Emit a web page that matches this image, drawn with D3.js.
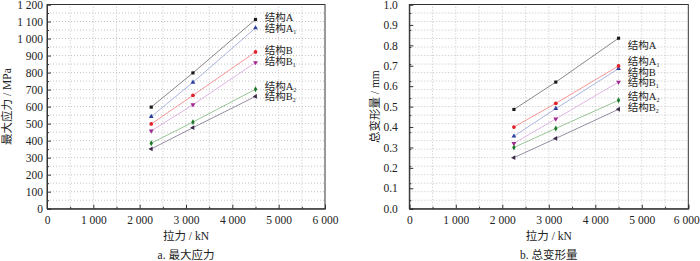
<!DOCTYPE html>
<html>
<head>
<meta charset="utf-8">
<script src="https://d3js.org/d3.v7.min.js"></script>
<style>
    body { margin: 0; background: #fff; }
    svg { display: block; }
    text { font-family: "Liberation Serif", "Noto Sans CJK SC", serif; fill: #222; }
    .grid line { stroke: #c4c4c4; stroke-dasharray: 1,2; }
    .axis path, .axis line { stroke: #333; }
</style>
</head>
<body>
<svg></svg>
<script>
    // x positions (拉力, kN)
    const forces = [2250, 3150, 4500];

    // series labels: base + subscript
    const labelBase = ["结构A", "结构A", "结构B", "结构B", "结构A", "结构B"];
    const labelSub  = ["", "1", "", "1", "2", "2"];

    // a. 最大应力 (MPa): A, A1, B, B1, A2, B2
    const stressA  = [597, 798, 1112];
    const stressA1 = [541, 743, 1062];
    const stressB  = [498, 666, 921];
    const stressB1 = [457, 611, 859];
    const stressA2 = [385, 509, 702];
    const stressB2 = [351, 476, 660];
    const stressLabelY = [1125, 1058, 929, 867, 720, 660];

    // b. 总变形量 (mm)
    const deformA  = [0.486, 0.620, 0.835];
    const deformA1 = [0.355, 0.490, 0.686];
    const deformB  = [0.400, 0.516, 0.699];
    const deformB1 = [0.320, 0.440, 0.620];
    const deformA2 = [0.300, 0.393, 0.531];
    const deformB2 = [0.250, 0.344, 0.487];
    const deformLabelY = [0.800, 0.722, 0.669, 0.619, 0.551, 0.498];

    const xTicks = [0, 1000, 2000, 3000, 4000, 5000, 6000];
    const stressTicks = d3.range(0, 1201, 100);
    const deformTicks = d3.range(0, 1.001, 0.1);

    const markColor = ["#1a1a1a", "#2d3f9e", "#e0202a", "#a02890", "#1e7a2a", "#3a2848"];
    const lineColor = ["#6a6a6a", "#95a3d8", "#f47c7c", "#d9a2dd", "#7cb87c", "#7c6e8a"];
    const shapes = [d3.symbolSquare, d3.symbolTriangle, d3.symbolCircle, "down", d3.symbolDiamond, "left"];

    const W = 700, H = 261;
    const svg = d3.select("svg").attr("width", W).attr("height", H);

    const loc = d3.formatLocale({ decimal: ".", thousands: " ", grouping: [3], currency: ["", ""] });
    const fmtK = loc.format(",");

    function drawPanel(o)
    {
        const x = d3.scaleLinear().domain([0, 6000]).range([o.left, o.right]);
        const y = d3.scaleLinear().domain([0, o.ymax]).range([o.bottom, o.top]);
        const g = svg.append("g");

        // dotted grid at every major and minor tick
        const grid = g.append("g").attr("class", "grid");
        grid.selectAll("line.gx").data(d3.range(500, 6000, 500)).enter().append("line")
            .attr("x1", d => x(d)).attr("x2", d => x(d))
            .attr("y1", o.bottom).attr("y2", o.top);
        grid.selectAll("line.gy").data(d3.range(1, 24).map(i => i * o.ymax / 24)).enter().append("line")
            .attr("y1", d => y(d)).attr("y2", d => y(d))
            .attr("x1", o.left).attr("x2", o.right);

        // minor ticks (inward)
        g.append("g").attr("class", "axis")
            .attr("transform", "translate(" + o.left + ",0)")
            .call(d3.axisLeft(y).tickValues(d3.range(0, 12).map(i => (i + 0.5) * o.ymax / 12))
                .tickSize(-2).tickFormat(""))
            .select(".domain").remove();
        g.append("g").attr("class", "axis")
            .attr("transform", "translate(0," + o.bottom + ")")
            .call(d3.axisBottom(x).tickValues(d3.range(500, 6000, 1000)).tickSize(-2).tickFormat(""))
            .select(".domain").remove();

        // major axes
        const ya = g.append("g").attr("class", "axis")
            .attr("transform", "translate(" + o.left + ",0)")
            .call(d3.axisLeft(y).tickValues(o.yticks).tickSize(-4).tickPadding(o.ypad).tickFormat(o.yfmt))
            .attr("font-family", null).attr("font-size", null);
        ya.selectAll("text").style("font-size", "11.5px");
        const xa = g.append("g").attr("class", "axis")
            .attr("transform", "translate(0," + o.bottom + ")")
            .call(d3.axisBottom(x).tickValues(xTicks).tickSize(-4).tickPadding(7).tickFormat(fmtK))
            .attr("font-family", null).attr("font-size", null);
        xa.selectAll("text").style("font-size", "11.5px");
        // keep the last label inside the page edge
        xa.selectAll("text").filter(d => d === 6000).attr("dx", o.lastDx);

        // frame
        g.append("rect")
            .attr("x", o.left).attr("y", o.top)
            .attr("width", o.right - o.left).attr("height", o.bottom - o.top)
            .attr("fill", "none").attr("stroke", "#333").attr("stroke-width", 1);

        // series
        const line = d3.line().x((d, i) => x(forces[i])).y(d => y(d));
        o.series.forEach((s, k) => {
            g.append("path").datum(s)
                .attr("d", line)
                .attr("fill", "none").attr("stroke", lineColor[k]).attr("stroke-width", 0.8);
            let sym = shapes[k], rot = 0;
            if (sym === "down") { sym = d3.symbolTriangle; rot = 180; }
            if (sym === "left") { sym = d3.symbolTriangle; rot = -90; }
            g.selectAll(null).data(s).enter().append("path")
                .attr("d", d3.symbol().type(sym).size(sym === d3.symbolCircle ? 11 : 10))
                .attr("transform", (d, i) => "translate(" + x(forces[i]) + "," + y(d) + ") rotate(" + rot + ")")
                .attr("fill", markColor[k]);
        });

        // labels
        labelBase.forEach((b, k) => {
            const t = g.append("text")
                .attr("x", x(4700)).attr("y", y(o.labelY[k]))
                .attr("dy", "0.36em")
                .style("font-size", "10.5px");
            t.append("tspan").text(b);
            if (labelSub[k])
                t.append("tspan").text(labelSub[k]).attr("dy", "0.3em").style("font-size", "6px");
        });

        // titles
        const cx = (o.left + o.right) / 2;
        g.append("text").attr("x", cx).attr("y", 240).attr("text-anchor", "middle")
            .style("font-size", "11.5px").text(o.xtitle);
        g.append("text").attr("x", cx).attr("y", 258.5).attr("text-anchor", "middle")
            .style("font-size", "11.5px").text(o.caption);
        g.append("text")
            .attr("transform", "translate(" + o.ytx + "," + ((o.top + o.bottom) / 2) + ") rotate(-90)")
            .attr("text-anchor", "middle").attr("dy", "0.36em")
            .style("font-size", "11.5px").text(o.ytitle);
    }

    drawPanel({
        left: 47, right: 325, top: 4.5, bottom: 208.7,
        ymax: 1200, yticks: stressTicks, yfmt: fmtK, ypad: 4, lastDx: 0,
        series: [stressA, stressA1, stressB, stressB1, stressA2, stressB2],
        labelY: stressLabelY,
        xtitle: "拉力 / kN", caption: "a. 最大应力", ytitle: "最大应力 / MPa", ytx: 7
    });

    drawPanel({
        left: 409.3, right: 688.3, top: 4.5, bottom: 208.7,
        ymax: 1.0, yticks: deformTicks, yfmt: d3.format(".1f"), ypad: 11.5, lastDx: -2,
        series: [deformA, deformA1, deformB, deformB1, deformA2, deformB2],
        labelY: deformLabelY,
        xtitle: "拉力 / kN", caption: "b. 总变形量", ytitle: "总变形量 / mm", ytx: 375
    });
</script>
</body>
</html>
